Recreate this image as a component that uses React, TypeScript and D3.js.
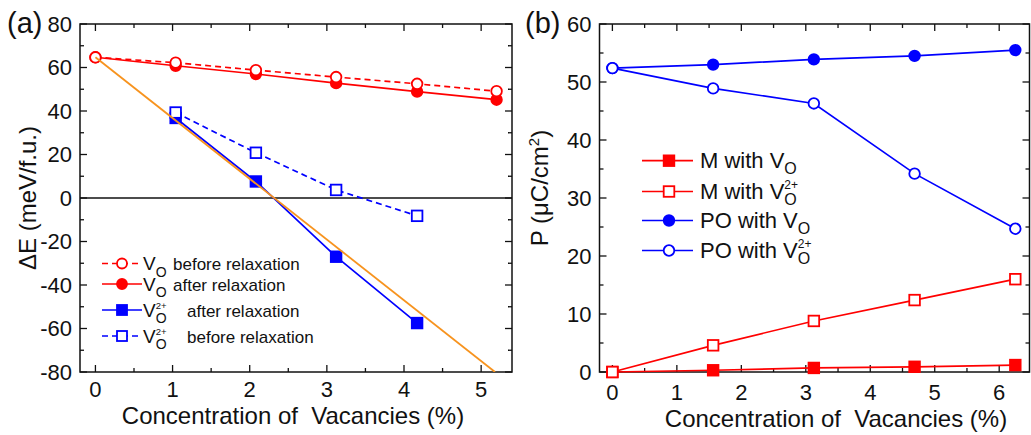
import React from "react";
import * as d3 from "d3";

// panel (a): formation energy vs vacancy concentration
const concA = [0, 1.04, 2.08, 3.12, 4.17, 5.2];
const voBefore = [64.7, 62.2, 58.8, 55.6, 52.5, 49.1];
const voAfter = [64.7, 60.8, 57.0, 52.8, 48.9, 45.2];
const concA2 = [1.04, 2.08, 3.12, 4.17];
const vo2After = [36.8, 7.6, -27.0, -57.5];
const vo2Before = [39.3, 20.8, 3.7, -8.2];
const fitX = [0, 5.18];
const fitY = [64.7, -80];

const xTicksA = [0, 1, 2, 3, 4, 5];
const xMinorA = [0.5, 1.5, 2.5, 3.5, 4.5];
const yTicksA = [-80, -60, -40, -20, 0, 20, 40, 60, 80];
const yMinorA = [-70, -50, -30, -10, 10, 30, 50, 70];

// panel (b): polarization vs vacancy concentration
const concB = [0, 1.5625, 3.125, 4.6875, 6.25];
const mVo = [0, 0.3, 0.7, 0.9, 1.2];
const mVo2 = [0, 4.6, 8.8, 12.4, 16.0];
const poVo = [52.4, 53.0, 53.9, 54.5, 55.5];
const poVo2 = [52.4, 48.9, 46.3, 34.2, 24.7];

const xTicksB = [0, 1, 2, 3, 4, 5, 6];
const xMinorB = [0.5, 1.5, 2.5, 3.5, 4.5, 5.5];
const yTicksB = [0, 10, 20, 30, 40, 50, 60];
const yMinorB = [5, 15, 25, 35, 45, 55];

const RED = "#ff0000";
const BLUE = "#0000ff";
const ORANGE = "#f7931e";
const FONT = "'Liberation Sans', Arial, Helvetica, sans-serif";

const xA = d3.scaleLinear().domain([-0.2, 5.4]).range([80, 512]);
const yA = d3.scaleLinear().domain([-80, 80]).range([372, 24]);
const xB = d3.scaleLinear().domain([-0.2, 6.47]).range([599.5, 1029.5]);
const yB = d3.scaleLinear().domain([0, 60]).range([372, 24]);

function Frame({ x, y, xMaj, xMin, yMaj, yMin, tickY }: any) {
  const [x0, x1] = x.range();
  const [y0, y1] = y.range();
  const ticks: any[] = [];
  xMaj.forEach((t: number) => {
    ticks.push(<line key={"xb" + t} x1={x(t)} x2={x(t)} y1={y0} y2={y0 - 7} />);
    ticks.push(<line key={"xt" + t} x1={x(t)} x2={x(t)} y1={y1} y2={y1 + 7} />);
  });
  xMin.forEach((t: number) => {
    ticks.push(<line key={"xbm" + t} x1={x(t)} x2={x(t)} y1={y0} y2={y0 - 4} />);
    ticks.push(<line key={"xtm" + t} x1={x(t)} x2={x(t)} y1={y1} y2={y1 + 4} />);
  });
  yMaj.forEach((t: number) => {
    ticks.push(<line key={"yl" + t} x1={x0} x2={x0 + 7} y1={y(t)} y2={y(t)} />);
    ticks.push(<line key={"yr" + t} x1={x1} x2={x1 - 7} y1={y(t)} y2={y(t)} />);
  });
  yMin.forEach((t: number) => {
    ticks.push(<line key={"ylm" + t} x1={x0} x2={x0 + 4} y1={y(t)} y2={y(t)} />);
    ticks.push(<line key={"yrm" + t} x1={x1} x2={x1 - 4} y1={y(t)} y2={y(t)} />);
  });
  return (
    <g>
      <g stroke="#111" strokeWidth={1.3}>{ticks}</g>
      <rect x={x0} y={y1} width={x1 - x0} height={y0 - y1} fill="none" stroke="#111" strokeWidth={1.5} />
      <g fontSize={22} fill="#111">
        {xMaj.map((t: number) => (
          <text key={"xl" + t} x={x(t)} y={tickY} textAnchor="middle">{t}</text>
        ))}
        {yMaj.map((t: number) => (
          <text key={"ylb" + t} x={x0 - 8} y={y(t)} dy="0.36em" textAnchor="end">{t}</text>
        ))}
      </g>
    </g>
  );
}

function Marker({ shape, filled, color, cx, cy, r = 5.3 }: any) {
  const fill = filled ? color : "#fff";
  if (shape === "circle") {
    return <circle cx={cx} cy={cy} r={r} fill={fill} stroke={color} strokeWidth={1.8} />;
  }
  return <rect x={cx - r} y={cy - r} width={2 * r} height={2 * r} fill={fill} stroke={color} strokeWidth={1.8} />;
}

function Series({ x, y, xs, ys, color, dash, shape, filled }: any) {
  const pts: [number, number][] = xs.map((v: number, i: number) => [v, ys[i]]);
  const line = d3.line<[number, number]>().x((d) => x(d[0])).y((d) => y(d[1]));
  return (
    <g>
      <path d={line(pts) || ""} fill="none" stroke={color} strokeWidth={1.7} strokeDasharray={dash} />
      {pts.map((p, i) => (
        <Marker key={i} shape={shape} filled={filled} color={color} cx={x(p[0])} cy={y(p[1])} />
      ))}
    </g>
  );
}

// "V" with subscript O (and optional superscript 2+), drawn as separate texts
function VSymbol({ x, base, size, subSize, supSize, subDy, supDy, sup }: any) {
  const vw = size * 0.667;
  return (
    <g fill="#111">
      <text x={x} y={base} fontSize={size}>V</text>
      {sup && <text x={x + vw} y={base + supDy} fontSize={supSize}>2+</text>}
      <text x={x + vw} y={base + subDy} fontSize={subSize}>O</text>
    </g>
  );
}

const legendA = [
  { color: RED, dash: "6,4", shape: "circle", filled: false, sup: false, text: "before relaxation" },
  { color: RED, dash: undefined, shape: "circle", filled: true, sup: false, text: "after relaxation" },
  { color: BLUE, dash: undefined, shape: "square", filled: true, sup: true, text: "after relaxation" },
  { color: BLUE, dash: "6,4", shape: "square", filled: false, sup: true, text: "before relaxation" },
];
const legendARows = [263.5, 284, 310, 336];

const legendB = [
  { color: RED, shape: "square", filled: true, sup: false, text: "M with" },
  { color: RED, shape: "square", filled: false, sup: true, text: "M with" },
  { color: BLUE, shape: "circle", filled: true, sup: false, text: "PO with" },
  { color: BLUE, shape: "circle", filled: false, sup: true, text: "PO with" },
];
const legendBRows = [160.7, 191.5, 220.5, 250.5];

export default function App() {
  const fitLine = d3.line<number>().x((d) => xA(d)).y((_, i) => yA(fitY[i]));
  return (
    <svg width={1031} height={435} style={{ position: "absolute", left: 0, top: 0, background: "#fff" }} fontFamily={FONT}>
      <defs>
        <clipPath id="clipA">
          <rect x={80} y={24} width={432} height={348} />
        </clipPath>
      </defs>

      {/* panel (a) */}
      <line x1={80} x2={512} y1={yA(0)} y2={yA(0)} stroke="#111" strokeWidth={1.5} />
      <Frame x={xA} y={yA} xMaj={xTicksA} xMin={xMinorA} yMaj={yTicksA} yMin={yMinorA} tickY={397} />
      <g clipPath="url(#clipA)">
        <Series x={xA} y={yA} xs={concA} ys={voAfter} color={RED} shape="circle" filled />
        <Series x={xA} y={yA} xs={concA} ys={voBefore} color={RED} dash="6,4" shape="circle" filled={false} />
        <Series x={xA} y={yA} xs={concA2} ys={vo2After} color={BLUE} shape="square" filled />
        <Series x={xA} y={yA} xs={concA2} ys={vo2Before} color={BLUE} dash="6,4" shape="square" filled={false} />
        <path d={fitLine(fitX) || ""} fill="none" stroke={ORANGE} strokeWidth={1.8} />
      </g>
      <text x={7} y={33} fontSize={29} fill="#111">(a)</text>
      <text x={293} y={423.5} fontSize={24} textAnchor="middle" fill="#111" style={{ whiteSpace: "pre" }}>
        {"Concentration of  Vacancies (%)"}
      </text>
      <text transform="translate(36,198) rotate(-90)" fontSize={24} textAnchor="middle" fill="#111">
        ΔE (meV/f.u.)
      </text>
      {legendA.map((d, i) => {
        const ry = legendARows[i];
        return (
          <g key={i}>
            <line x1={102} x2={142} y1={ry} y2={ry} stroke={d.color} strokeWidth={1.7} strokeDasharray={d.dash} />
            <Marker shape={d.shape} filled={d.filled} color={d.color} cx={122} cy={ry} r={5} />
            <VSymbol x={143} base={ry + 6.7} size={19} subSize={14} supSize={9.5} subDy={6.5} supDy={-7.5} sup={d.sup} />
            <text x={d.sup ? 187 : 173} y={ry + 6.7} fontSize={17} fill="#111">{d.text}</text>
          </g>
        );
      })}

      {/* panel (b) */}
      <Frame x={xB} y={yB} xMaj={xTicksB} xMin={xMinorB} yMaj={yTicksB} yMin={yMinorB} tickY={400} />
      <Series x={xB} y={yB} xs={concB} ys={mVo} color={RED} shape="square" filled />
      <Series x={xB} y={yB} xs={concB} ys={mVo2} color={RED} shape="square" filled={false} />
      <Series x={xB} y={yB} xs={concB} ys={poVo} color={BLUE} shape="circle" filled />
      <Series x={xB} y={yB} xs={concB} ys={poVo2} color={BLUE} shape="circle" filled={false} />
      <text x={525} y={33} fontSize={29} fill="#111">(b)</text>
      <text x={836} y={427} fontSize={24} textAnchor="middle" fill="#111" style={{ whiteSpace: "pre" }}>
        {"Concentration of  Vacancies (%)"}
      </text>
      <text transform="translate(548,188) rotate(-90)" fontSize={24} textAnchor="middle" fill="#111">
        P (μC/cm<tspan fontSize={15} dy={-9}>2</tspan>
        <tspan dy={9}>)</tspan>
      </text>
      {legendB.map((d, i) => {
        const ry = legendBRows[i];
        const tw = d.text === "M with" ? 69.7 : 83.1;
        return (
          <g key={i}>
            <line x1={642} x2={693} y1={ry} y2={ry} stroke={d.color} strokeWidth={1.7} />
            <Marker shape={d.shape} filled={d.filled} color={d.color} cx={669} cy={ry} r={5.3} />
            <text x={700} y={ry + 7.5} fontSize={22} fill="#111">{d.text}</text>
            <VSymbol x={700 + tw} base={ry + 7.5} size={22} subSize={16} supSize={12} subDy={5.5} supDy={-10.5} sup={d.sup} />
          </g>
        );
      })}
    </svg>
  );
}
